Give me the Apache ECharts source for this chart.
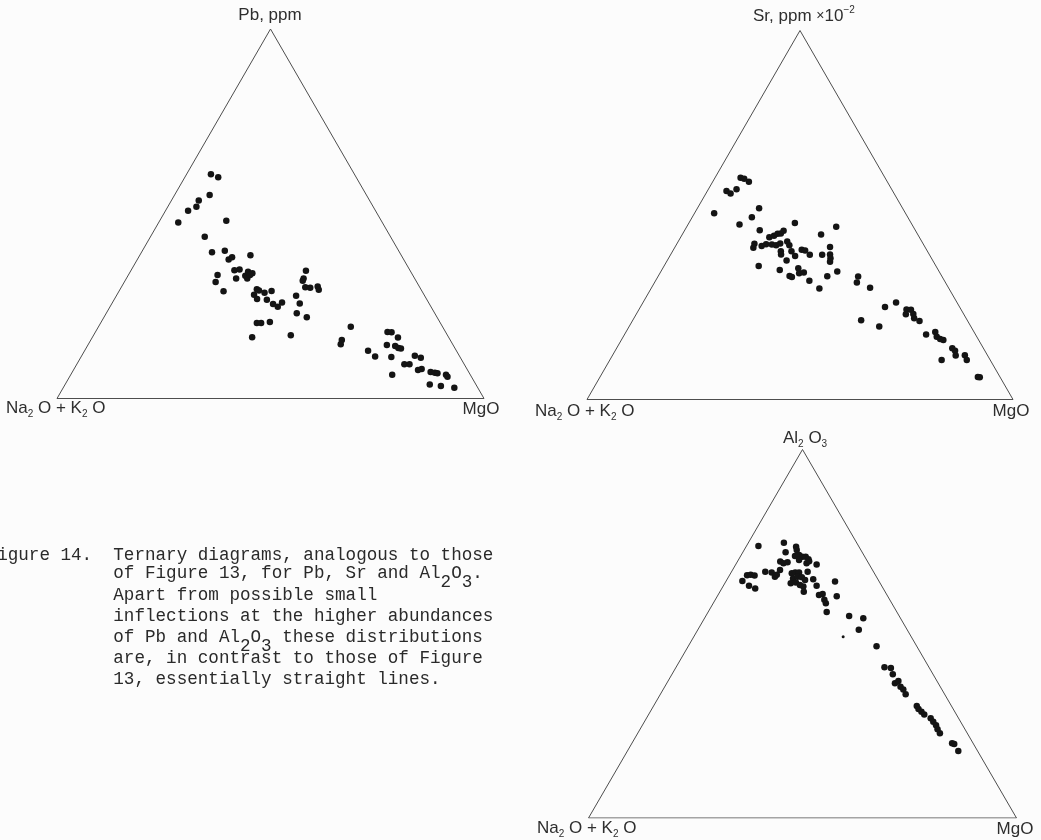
<!DOCTYPE html>
<html>
<head>
<meta charset="utf-8">
<script src="https://cdn.jsdelivr.net/npm/echarts@6/dist/echarts.min.js"></script>
<style>
  html, body { margin: 0; padding: 0; background: #fcfcfc; }
  #chart { width: 1041px; height: 840px; }
</style>
</head>
<body>
<div id="chart"></div>
<script>
// Each sample is [MgO %, apex component %]; Na2O+K2O is the remainder to 100 %.
const pbRows = [
  [5.7,60.7],[7.8,59.9],[8.2,55.1],[6.4,53.6],[6.7,51.9],[5.3,50.8],[4.6,47.6],[15.6,48.1],
  [12.7,43.8],[16.5,39.6],[19.3,40.0],[21.4,37.6],[21.9,38.2],[25.9,38.8],[24.2,34.7],[25.3,34.9],
  [25.7,32.5],[27.5,33.2],[27.6,34.3],[28.8,33.9],[28.3,32.5],[28.5,33.4],[20.9,33.4],[21.4,31.5],
  [24.5,29.0],[32.0,29.6],[32.7,29.2],[34.3,28.6],[35.7,29.1],[32.1,28.1],[33.4,26.9],[35.8,26.7],
  [37.8,25.6],[39.3,24.8],[39.7,26.0],[36.6,20.4],[37.6,20.4],[39.5,20.7],[37.4,16.6],[46.2,17.1],
  [42.1,27.8],[44.0,25.7],[44.6,23.1],[47.5,22.0],[41.0,34.6],[41.5,32.5],[41.6,31.9],[43.1,30.1],
  [44.3,30.0],[45.9,30.3],[46.6,29.4],[59.1,19.4],[58.8,15.8],[59.1,14.7],[68.4,18.0],[69.4,17.9],
  [71.6,16.5],[70.0,14.5],[72.1,14.2],[73.1,13.7],[73.8,13.5],[66.4,12.9],[68.8,11.4],[72.7,11.2],
  [78.0,11.6],[79.7,11.0],[76.7,9.3],[77.9,9.3],[80.7,7.7],[81.4,8.0],[83.9,7.2],[85.0,7.0],
  [85.7,6.8],[87.9,6.4],[88.5,5.9],[75.3,6.4],[85.4,3.8],[88.2,3.4],[91.6,2.9]
];
const srRows = [
  [6.0,60.1],[7.0,59.8],[8.5,59.0],[4.5,56.5],[5.8,55.8],[6.6,57.0],[4.6,50.5],[14.5,51.8],
  [14.0,49.4],[12.1,47.4],[17.6,45.9],[24.9,47.8],[35.1,46.8],[32.6,44.7],[20.8,44.0],[21.7,44.4],
  [22.3,44.9],[23.0,45.0],[23.3,45.7],[18.2,42.2],[18.5,41.1],[20.2,41.6],[21.0,42.1],[22.4,42.0],
  [23.5,41.8],[24.2,42.3],[25.6,42.8],[26.6,41.8],[25.4,40.2],[25.9,39.3],[27.9,40.2],[29.4,38.9],
  [30.1,40.6],[31.0,40.4],[32.7,39.2],[35.6,39.2],[36.4,41.3],[37.4,39.3],[38.0,38.3],[38.4,37.3],
  [28.0,37.7],[22.2,36.2],[27.7,35.1],[30.8,33.5],[31.5,33.2],[31.8,35.6],[32.7,34.2],[33.7,34.4],
  [36.1,32.2],[39.5,30.1],[39.7,33.4],[41.4,34.7],[47.0,33.3],[47.5,31.7],[51.3,30.3],[57.4,25.1],
  [59.4,26.3],[53.6,21.5],[58.7,19.8],[62.8,24.4],[63.9,24.3],[65.0,23.2],[63.3,23.1],[65.8,22.0],
  [67.4,21.3],[70.8,17.6],[72.6,18.3],[73.6,17.0],[74.7,16.4],[75.6,16.1],[77.9,10.7],[78.8,13.9],
  [79.8,13.2],[80.6,11.9],[82.7,12.0],[83.8,10.7],[88.7,6.1],[89.2,6.0]
];
const alRows = [
  [2.8,73.8],[8.3,74.7],[11.7,73.6],[12.3,72.7],[10.0,72.1],[12.7,71.1],[13.5,71.4],[14.5,70.9],
  [15.3,70.9],[16.3,70.2],[14.2,70.0],[16.4,69.1],[16.7,69.7],[18.9,68.8],[10.0,69.6],[11.0,69.1],
  [11.8,69.4],[11.1,67.3],[7.9,66.8],[9.5,66.6],[10.8,65.5],[11.0,66.0],[4.1,65.9],[4.9,66.0],
  [5.9,65.8],[3.8,64.3],[6.0,63.0],[7.8,62.3],[14.3,66.4],[15.0,66.6],[15.9,66.6],[15.3,65.0],
  [16.1,65.5],[17.2,65.3],[18.3,64.6],[15.4,63.7],[16.5,63.9],[17.8,63.2],[18.8,62.8],[17.8,66.8],
  [19.6,61.4],[20.1,64.8],[21.8,63.0],[25.5,64.2],[23.6,60.5],[24.3,60.8],[25.5,59.2],[26.3,58.3],
  [27.9,60.2],[27.7,55.9],[33.5,54.8],[37.1,54.2],[37.6,51.1],[44.0,46.6],[48.7,40.9],[50.3,40.7],
  [51.6,39.0],[53.3,36.6],[53.8,37.2],[55.1,35.6],[56.1,34.9],[57.3,33.6],[61.5,30.4],[62.3,29.6],
  [63.4,28.8],[64.4,28.1],[66.4,27.1],[67.5,26.1],[68.6,25.2],[70.6,23.0],[69.5,24.1],[74.8,20.3],
  [75.4,20.1],[77.3,18.2]
];
// A single faint, smaller point in the Al2O3 diagram
const alFaintRows = [[34.9,49.2]];

// Corners of the diagram as compositions: Na2O+K2O, MgO, apex, back to start
const frameRows = [[0,0],[100,0],[0,100],[0,0]];

// Ternary composition -> position in a unit triangle (x along base, y = apex share)
function toXY(row) {
  const mg = row[0] / 100, top = row[1] / 100;
  return [mg + top / 2, top];
}

const grids = [
  { left: 57,    top: 29,    width: 427, height: 369.5 },
  { left: 587,   top: 30.5,  width: 426, height: 369 },
  { left: 588.5, top: 449.5, width: 428, height: 368.5 }
];

const xAxes = grids.map((g, i) => ({ gridIndex: i, type: 'value', min: 0, max: 1, show: false }));
const yAxes = grids.map((g, i) => ({ gridIndex: i, type: 'value', min: 0, max: 1, show: false }));

const DOT = '#141414';
const EDGE = '#4d4d4d';

function frameSeries(i) {
  return {
    type: 'line', xAxisIndex: i, yAxisIndex: i,
    data: frameRows.map(toXY), showSymbol: false, silent: true,
    lineStyle: { color: EDGE, width: 1 }, animation: false, z: 1
  };
}
function dotSeries(i, rows, size) {
  return {
    type: 'scatter', xAxisIndex: i, yAxisIndex: i,
    data: rows.map(toXY), symbolSize: size, silent: true,
    itemStyle: { color: DOT, opacity: 1 }, animation: false, z: 2
  };
}

const SANS = '"Liberation Sans", Arial, sans-serif';
const MONO = '"Liberation Mono", "DejaVu Sans Mono", monospace';
const LABEL_FILL = '#2e2e2e';
const labelRich = {
  s: { font: '10px ' + SANS, fill: LABEL_FILL, height: 8, verticalAlign: 'bottom' },
  p: { font: '10px ' + SANS, fill: LABEL_FILL, height: 8, verticalAlign: 'top' },
  x: { font: '14px ' + SANS, fill: LABEL_FILL }
};
function label(x, y, text, align) {
  return {
    type: 'text', x: x, y: y, silent: true,
    style: {
      text: text, font: '17px ' + SANS, fill: LABEL_FILL, lineHeight: 20,
      align: align, verticalAlign: 'middle', rich: labelRich
    }
  };
}

const CAPTION_FILL = '#2a2a2a';
const captionRich = {
  s: { font: '17.6px ' + MONO, fill: CAPTION_FILL, height: 3, verticalAlign: 'bottom' }
};
function captionLine(x, y, text) {
  return {
    type: 'text', x: x, y: y, silent: true,
    style: {
      text: text, font: '17.6px ' + MONO, fill: CAPTION_FILL, lineHeight: 20,
      align: 'left', verticalAlign: 'middle', rich: captionRich
    }
  };
}

const naLabel = 'Na{s|2} O + K{s|2} O';

const graphics = [
  // Pb diagram
  label(270, 15, 'Pb, ppm', 'center'),
  label(6, 408, naLabel, 'left'),
  label(481, 409, 'MgO', 'center'),
  // Sr diagram
  label(753, 16, 'Sr, ppm {x|×}10{p|−2}', 'left'),
  label(535, 411, naLabel, 'left'),
  label(1011, 411, 'MgO', 'center'),
  // Al2O3 diagram
  label(783, 438, 'Al{s|2} O{s|3}', 'left'),
  label(537, 828, naLabel, 'left'),
  label(1015, 829, 'MgO', 'center'),
  // Caption
  captionLine(-13.4, 555, 'Figure 14.  Ternary diagrams, analogous to those'),
  captionLine(113.3, 573.5, 'of Figure 13, for Pb, Sr and Al{s|2}O{s|3}.'),
  captionLine(113.3, 595.5, 'Apart from possible small'),
  captionLine(113.3, 616.7, 'inflections at the higher abundances'),
  captionLine(113.3, 637.5, 'of Pb and Al{s|2}O{s|3} these distributions'),
  captionLine(113.3, 658.5, 'are, in contrast to those of Figure'),
  captionLine(113.3, 679.5, '13, essentially straight lines.')
];

const chart = echarts.init(document.getElementById('chart'), null, { renderer: 'canvas' });
chart.setOption({
  backgroundColor: '#fcfcfc',
  animation: false,
  grid: grids,
  xAxis: xAxes,
  yAxis: yAxes,
  series: [
    frameSeries(0), dotSeries(0, pbRows, 6.5),
    frameSeries(1), dotSeries(1, srRows, 6.5),
    frameSeries(2), dotSeries(2, alRows, 6.5), dotSeries(2, alFaintRows, 3)
  ],
  graphic: graphics
});
</script>
</body>
</html>
